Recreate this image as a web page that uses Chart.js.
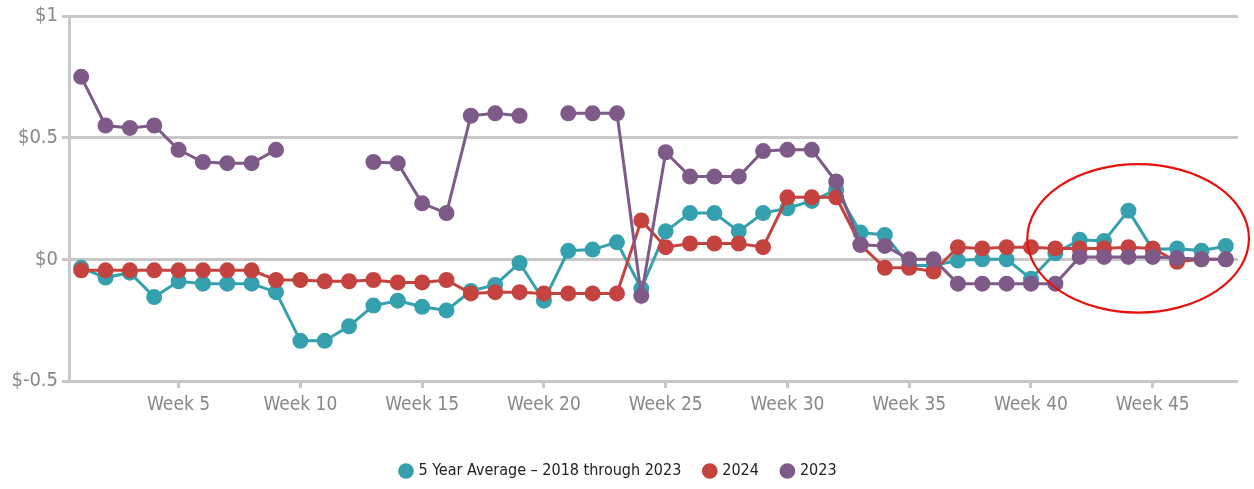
<!DOCTYPE html>
<html>
<head>
<meta charset="utf-8">
<script src="https://cdn.jsdelivr.net/npm/chart.js@4/dist/chart.umd.min.js"></script>
<style>
  html, body { margin: 0; padding: 0; background: #fff; }
  #wrap { width: 1254px; height: 489px; }
</style>
</head>
<body>
<div id="wrap"><canvas id="priceChart" width="1254" height="489"></canvas></div>
<script>
// weekly values
const weeks = [];
for (let i = 1; i <= 48; i++) weeks.push('Week ' + i);

const fiveYearAvg = [
  -0.035, -0.075, -0.055, -0.155, -0.09, -0.10, -0.10, -0.10, -0.135, -0.335,
  -0.335, -0.275, -0.19, -0.17, -0.195, -0.21, -0.13, -0.105, -0.015, -0.17,
  0.035, 0.04, 0.07, -0.12, 0.115, 0.19, 0.19, 0.115, 0.19, 0.21,
  0.24, 0.285, 0.11, 0.10, -0.025, -0.025, -0.005, 0.0, 0.0, -0.08,
  0.025, 0.08, 0.075, 0.20, 0.04, 0.045, 0.035, 0.055
];

const year2024 = [
  -0.045, -0.045, -0.045, -0.045, -0.045, -0.045, -0.045, -0.045, -0.085, -0.085,
  -0.09, -0.09, -0.085, -0.095, -0.095, -0.085, -0.14, -0.135, -0.135, -0.14,
  -0.14, -0.14, -0.14, 0.16, 0.05, 0.065, 0.065, 0.065, 0.05, 0.255,
  0.255, 0.255, 0.06, -0.035, -0.035, -0.05, 0.05, 0.045, 0.05, 0.05,
  0.045, 0.045, 0.045, 0.05, 0.045, -0.01, 0.0, 0.0
];

const year2023 = [
  0.75, 0.55, 0.54, 0.55, 0.45, 0.40, 0.395, 0.395, 0.45, null,
  null, null, 0.40, 0.395, 0.23, 0.19, 0.59, 0.60, 0.59, null,
  0.60, 0.60, 0.60, -0.15, 0.44, 0.34, 0.34, 0.34, 0.445, 0.45,
  0.45, 0.32, 0.06, 0.055, 0.0, 0.0, -0.10, -0.10, -0.10, -0.10,
  -0.10, 0.01, 0.01, 0.01, 0.01, 0.005, 0.0, 0.0
];

const yTicks = [-0.5, 0, 0.5, 1];

const teal = '#35a0ae';
const red = '#c4433f';
const purple = '#7e5a88';
const gridGray = '#c8c8c8';
const labelFont = '"DejaVu Sans Condensed", "Open Sans", sans-serif';

// red ellipse drawn around the last weeks
const highlight = {
  id: 'highlight',
  afterDatasetsDraw(chart) {
    const x = chart.scales.x, y = chart.scales.y;
    const cx = x.getPixelForValue(43.4);
    const cy = y.getPixelForValue(0.086);
    const rx = x.getPixelForValue(43.4 + 4.55) - cx;
    const ry = cy - y.getPixelForValue(0.086 + 0.305);
    const ctx = chart.ctx;
    ctx.save();
    ctx.beginPath();
    ctx.ellipse(cx, cy, rx, ry, 0, 0, Math.PI * 2);
    ctx.strokeStyle = '#e8100c';
    ctx.lineWidth = 2.2;
    ctx.stroke();
    ctx.restore();
  }
};

function lineSet(label, data, color, order) {
  return {
    label: label,
    data: data,
    borderColor: color,
    backgroundColor: color,
    pointBackgroundColor: color,
    pointBorderColor: color,
    borderWidth: 3,
    pointRadius: 6.5,
    pointHoverRadius: 6.5,
    spanGaps: false,
    tension: 0,
    order: order
  };
}

const ctx = document.getElementById('priceChart').getContext('2d');
const chart = new Chart(ctx, {
  type: 'line',
  data: {
    labels: weeks,
    datasets: [
      lineSet('5 Year Average \u2013 2018 through 2023', fiveYearAvg, teal, 3),
      lineSet('2024', year2024, red, 2),
      lineSet('2023', year2023, purple, 1)
    ]
  },
  options: {
    responsive: false,
    animation: false,
    layout: { padding: { left: 0, right: 16, top: 10, bottom: 0 } },
    plugins: {
      tooltip: { enabled: false },
      legend: {
        position: 'bottom',
        labels: {
          usePointStyle: true,
          pointStyle: 'circle',
          boxWidth: 9,
          boxHeight: 9,
          padding: 24,
          color: '#222',
          font: { family: labelFont, size: 16 },
          sort: (a, b) => a.datasetIndex - b.datasetIndex
        }
      }
    },
    scales: {
      x: {
        type: 'category',
        offset: true,
        grid: {
          offset: false,
          drawOnChartArea: false,
          tickLength: 7,
          lineWidth: 3,
          color: (c) => ((c.index + 1) % 5 === 0 ? gridGray : 'rgba(0,0,0,0)')
        },
        border: { display: false },
        ticks: {
          autoSkip: false,
          maxRotation: 0,
          color: '#888',
          font: { family: labelFont, size: 19 },
          padding: 6,
          callback: function (value, index) {
            return (index + 1) % 5 === 0 ? this.getLabelForValue(value) : '';
          }
        },
        afterFit: (scale) => { scale.height = 58; }
      },
      y: {
        min: -0.5,
        max: 1,
        afterBuildTicks: (scale) => { scale.ticks = yTicks.map(v => ({ value: v })); },
        grid: {
          color: gridGray,
          lineWidth: 3,
          tickLength: 7
        },
        border: { display: true, color: gridGray, width: 3 },
        ticks: {
          color: '#888',
          font: { family: labelFont, size: 20 },
          padding: 4,
          callback: (v) => '$' + v
        },
        afterFit: (scale) => { scale.width = 69; }
      }
    }
  },
  plugins: [highlight]
});
</script>
</body>
</html>
